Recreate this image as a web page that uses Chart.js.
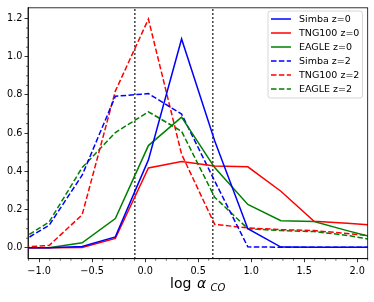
<!DOCTYPE html>
<html>
<head>
<meta charset="utf-8">
<script src="https://cdn.jsdelivr.net/npm/chart.js@4/dist/chart.umd.min.js"></script>
<style>
  html, body { margin: 0; padding: 0; background: #fff; }
  canvas { display: block; }
</style>
</head>
<body>
<canvas id="myChart" width="374" height="302"></canvas>
<script>
// bin centres in log alpha_CO
const binCenters = [-1.219, -0.906, -0.594, -0.281, 0.031, 0.344, 0.656, 0.969, 1.281, 1.594, 1.906, 2.219];

const simbaZ0 = [0.0, 0.0, 0.007, 0.057, 0.46, 1.093, 0.56, 0.10, 0.004, 0.003, 0.003, 0.003];
const tngZ0   = [0.0, 0.0, 0.002, 0.049, 0.418, 0.452, 0.428, 0.424, 0.296, 0.139, 0.128, 0.117];
const eagleZ0 = [0.0, 0.0, 0.026, 0.153, 0.535, 0.684, 0.42, 0.227, 0.142, 0.138, 0.09, 0.045];
const simbaZ2 = [0.014, 0.118, 0.38, 0.793, 0.807, 0.70, 0.35, 0.005, 0.003, 0.003, 0.003, 0.003];
const tngZ2   = [0.003, 0.012, 0.173, 0.82, 1.197, 0.49, 0.123, 0.104, 0.095, 0.09, 0.075, 0.058];
const eagleZ2 = [0.026, 0.135, 0.42, 0.603, 0.712, 0.61, 0.265, 0.10, 0.09, 0.085, 0.065, 0.035];

const seriesLabels = ['Simba z=0', 'TNG100 z=0', 'EAGLE z=0', 'Simba z=2', 'TNG100 z=2', 'EAGLE z=2'];
const refLines = [-0.097, 0.6385];   // dotted verticals
const xTicks = [-1.0, -0.5, 0.0, 0.5, 1.0, 1.5, 2.0];
const yTicks = [0.0, 0.2, 0.4, 0.6, 0.8, 1.0, 1.2];

const xMin = -1.105, xMax = 2.1, yMin = -0.057, yMax = 1.256;

const colors = ['#0000ff', '#ff0000', '#008000'];
const dash = [5.5, 2.4];

function pts(arr) {
  return binCenters.map((x, i) => ({ x: x, y: arr[i] }));
}

const allSeries = [simbaZ0, tngZ0, eagleZ0, simbaZ2, tngZ2, eagleZ2];
const datasets = allSeries.map((s, i) => ({
  label: seriesLabels[i],
  data: pts(s),
  borderColor: colors[i % 3],
  borderWidth: 1.5,
  borderDash: i >= 3 ? dash : [],
  pointRadius: 0,
  tension: 0,
  fill: false
}));

refLines.forEach(v => {
  datasets.push({
    label: '_ref',
    data: [{ x: v, y: yMin }, { x: v, y: yMax }],
    borderColor: '#000',
    borderWidth: 1.5,
    borderDash: [1.5, 2.5],
    pointRadius: 0,
    fill: false
  });
});

const minus = s => s.replace('-', '\u2212');

// frame, minor ticks, legend, axis title
const extras = {
  id: 'extras',
  afterDraw(chart) {
    const c = chart.ctx;
    const a = chart.chartArea;
    const xs = chart.scales.x, ys = chart.scales.y;
    c.save();
    c.strokeStyle = '#000';
    c.lineWidth = 0.8;
    c.strokeRect(a.left, a.top, a.right - a.left, a.bottom - a.top);

    // minor ticks
    c.beginPath();
    for (let v = -1.1; v <= 2.1001; v += 0.1) {
      const r = Math.round(v * 10) / 10;
      if (Math.abs(r * 2 - Math.round(r * 2)) < 1e-6) continue;
      const px = xs.getPixelForValue(r);
      c.moveTo(px, a.bottom);
      c.lineTo(px, a.bottom + 2);
    }
    for (let v = 0; v <= 1.25; v += 0.05) {
      const r = Math.round(v * 100) / 100;
      if (Math.abs(r * 5 - Math.round(r * 5)) < 1e-6) continue;
      const py = ys.getPixelForValue(r);
      c.moveTo(a.left, py);
      c.lineTo(a.left - 2, py);
    }
    c.lineWidth = 0.6;
    c.stroke();

    // legend
    const lx = 268, ly = 11, lw = 94.5, lh = 87;
    c.beginPath();
    c.roundRect(lx, ly, lw, lh, 2.5);
    c.fillStyle = 'rgba(255,255,255,0.8)';
    c.fill();
    c.strokeStyle = '#cccccc';
    c.lineWidth = 0.8;
    c.stroke();
    c.font = '9.5px "DejaVu Sans"';
    c.textBaseline = 'middle';
    c.textAlign = 'left';
    for (let i = 0; i < seriesLabels.length; i++) {
      const ds = chart.data.datasets[i];
      const y = 19 + i * 14;
      c.beginPath();
      c.setLineDash(ds.borderDash);
      c.strokeStyle = ds.borderColor;
      c.lineWidth = 1.5;
      c.moveTo(271, y);
      c.lineTo(291, y);
      c.stroke();
      c.setLineDash([]);
      c.fillStyle = '#000';
      c.fillText(seriesLabels[i], 299, y + 0.5);
    }

    // x axis title: log alpha_CO
    c.fillStyle = '#000';
    c.textBaseline = 'alphabetic';
    c.font = '14px "DejaVu Sans"';
    c.fillText('log', 170, 288);
    c.font = 'italic 14px "DejaVu Sans"';
    c.fillText('\u03b1', 197, 288);
    c.font = 'italic 10px "DejaVu Sans"';
    c.fillText('CO', 210.5, 291);
    c.restore();
  }
};

const ctx1 = document.getElementById('myChart').getContext('2d');
const myChart = new Chart(ctx1, {
  type: 'line',
  data: { datasets: datasets },
  options: {
    responsive: false,
    animation: false,
    devicePixelRatio: 1,
    layout: { padding: { left: 0, top: 6, right: 6.3, bottom: 0 } },
    plugins: { legend: { display: false }, tooltip: { enabled: false } },
    scales: {
      x: {
        type: 'linear',
        min: xMin, max: xMax,
        afterFit: s => { s.height = 43.3; },
        afterBuildTicks: s => { s.ticks = xTicks.map(v => ({ value: v })); },
        grid: { drawOnChartArea: false, tickLength: 3.5, tickColor: '#000', tickWidth: 0.8 },
        border: { color: '#000', width: 0.8 },
        ticks: {
          autoSkip: false, maxRotation: 0, padding: 3,
          color: '#000', font: { family: 'DejaVu Sans', size: 9.7 },
          callback: v => minus(v.toFixed(1))
        }
      },
      y: {
        type: 'linear',
        min: yMin, max: yMax,
        afterFit: s => { s.width = 28; },
        afterBuildTicks: s => { s.ticks = yTicks.map(v => ({ value: v })); },
        grid: { drawOnChartArea: false, tickLength: 3.5, tickColor: '#000', tickWidth: 0.8 },
        border: { color: '#000', width: 0.8 },
        ticks: {
          autoSkip: false, padding: 2,
          color: '#000', font: { family: 'DejaVu Sans', size: 9.7 },
          callback: v => minus(v.toFixed(1))
        }
      }
    }
  },
  plugins: [extras]
});
</script>
</body>
</html>
